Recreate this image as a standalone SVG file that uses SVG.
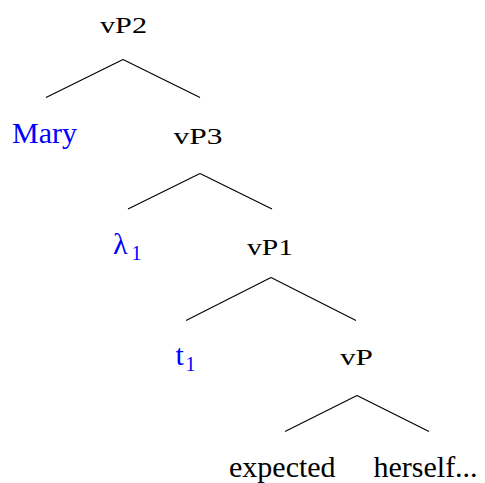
<svg xmlns="http://www.w3.org/2000/svg" width="485" height="483" viewBox="0 0 485 483">
<style>
text{font-family:'Liberation Serif','Times New Roman','DejaVu Serif',serif}
.lab{font-size:23.5px}
.leaf{font-size:30px}
.blue{fill:#0000ff}
.sub{font-size:20px}
#edges line{stroke:#000;stroke-width:1.1}
</style>
<rect width="485" height="483" fill="#fff"/>
<g id="edges">
<line x1="123" y1="59.5" x2="46" y2="97.5"/>
<line x1="123" y1="59.5" x2="200" y2="97.5"/>
<line x1="200" y1="173.5" x2="128" y2="209"/>
<line x1="200" y1="173.5" x2="272" y2="209"/>
<line x1="271" y1="277.5" x2="186" y2="320.5"/>
<line x1="271" y1="277.5" x2="356" y2="320.5"/>
<line x1="357" y1="395.5" x2="285" y2="431.5"/>
<line x1="357" y1="395.5" x2="429" y2="431.5"/>
</g>
<g id="vP2"><text class="lab" x="100" y="33" textLength="47" lengthAdjust="spacingAndGlyphs">vP2</text></g>
<g id="Mary"><text class="leaf blue" x="12" y="142.5">Mary</text></g>
<g id="vP3"><text class="lab" x="173.5" y="143.5" textLength="49" lengthAdjust="spacingAndGlyphs">vP3</text></g>
<g id="lambda1"><text class="leaf blue" x="113" y="253.5">λ<tspan class="sub" x="131.5" y="259.5">1</tspan></text></g>
<g id="vP1"><text class="lab" x="247" y="255" textLength="46" lengthAdjust="spacingAndGlyphs">vP1</text></g>
<g id="t1"><text class="leaf blue" x="175.5" y="365">t<tspan class="sub" x="185.5" y="370.5">1</tspan></text></g>
<g id="vP"><text class="lab" x="340" y="365" textLength="33" lengthAdjust="spacingAndGlyphs">vP</text></g>
<g id="expected"><text class="leaf" x="229" y="476.5">expected</text></g>
<g id="herself"><text class="leaf" x="373.5" y="476.5">herself...</text></g>
</svg>
